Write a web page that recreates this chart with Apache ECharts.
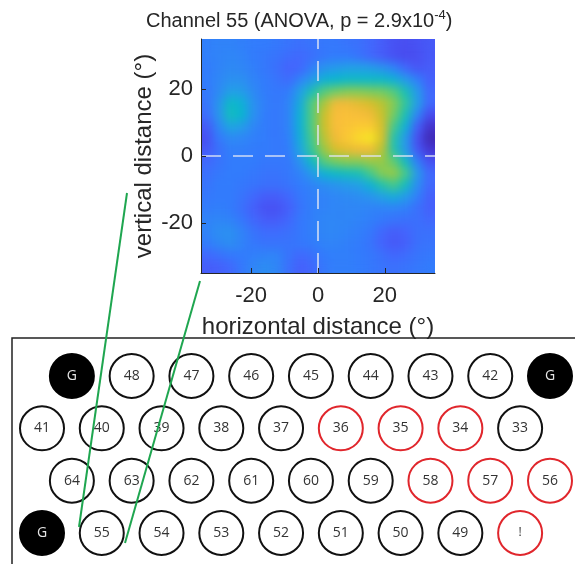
<!DOCTYPE html>
<html><head><meta charset="utf-8">
<script src="https://cdn.jsdelivr.net/npm/echarts@6/dist/echarts.min.js"></script>
<style>
html,body{margin:0;padding:0;background:#fff}
#wrap{position:relative;width:575px;height:564px}
#hm{position:absolute;left:201px;top:39px;width:234px;height:234px;filter:url(#smooth)}
#c{position:absolute;left:0;top:0;width:575px;height:564px}
</style>
</head><body>
<svg width="0" height="0" style="position:absolute">
  <filter id="smooth" x="0" y="0" width="100%" height="100%" color-interpolation-filters="sRGB">
    <feGaussianBlur stdDeviation="5"/>
    <feComponentTransfer><feFuncA type="table" tableValues="1 1"/></feComponentTransfer>
  </filter>
</svg>
<div id="wrap"><div id="hm"></div><div id="c"></div></div>
<script>
// ---- heatmap data (parula-normalised response, 0..1) ----
const cellCenters = [-33.25,-29.75,-26.25,-22.75,-19.25,-15.75,-12.25,-8.75,-5.25,-1.75,1.75,5.25,8.75,12.25,15.75,19.25,22.75,26.25,29.75,33.25];
// rows listed top (y=33.25) to bottom (y=-33.25); columns left (x=-33.25) to right
const heatRows = [
 [.26,.27,.27,.26,.25,.25,.24,.23,.22,.23,.24,.24,.23,.22,.20,.17,.14,.13,.14,.16],
 [.26,.27,.28,.27,.25,.24,.23,.21,.20,.22,.24,.25,.25,.23,.20,.17,.14,.12,.13,.16],
 [.25,.27,.29,.28,.26,.24,.22,.19,.20,.26,.32,.34,.36,.36,.35,.32,.27,.20,.15,.17],
 [.25,.28,.31,.31,.27,.25,.23,.21,.27,.34,.42,.44,.46,.46,.46,.46,.42,.34,.26,.18],
 [.24,.29,.36,.35,.29,.25,.24,.25,.36,.50,.60,.64,.66,.66,.65,.64,.60,.50,.34,.20],
 [.23,.32,.46,.42,.31,.26,.24,.27,.40,.60,.70,.80,.80,.78,.76,.72,.66,.55,.36,.20],
 [.21,.32,.48,.44,.31,.25,.24,.27,.42,.60,.74,.82,.83,.82,.80,.74,.64,.50,.28,.12],
 [.16,.28,.38,.35,.28,.25,.24,.27,.42,.60,.74,.82,.84,.86,.86,.76,.58,.42,.18,.05],
 [.13,.24,.29,.28,.26,.25,.24,.26,.41,.58,.72,.80,.85,.90,.93,.76,.52,.34,.13,.02],
 [.16,.22,.26,.26,.25,.25,.24,.25,.38,.56,.68,.76,.78,.80,.80,.72,.52,.34,.16,.06],
 [.20,.23,.25,.25,.25,.24,.24,.24,.32,.46,.60,.64,.66,.66,.68,.68,.62,.48,.26,.14],
 [.22,.24,.25,.25,.24,.23,.23,.24,.27,.34,.42,.46,.48,.50,.58,.66,.68,.58,.34,.20],
 [.23,.25,.25,.24,.23,.22,.22,.23,.25,.27,.30,.32,.34,.36,.42,.52,.58,.48,.30,.20],
 [.24,.25,.25,.23,.20,.17,.17,.20,.24,.26,.27,.28,.29,.30,.32,.36,.40,.34,.26,.18],
 [.25,.26,.25,.22,.18,.14,.14,.18,.23,.26,.27,.28,.28,.28,.27,.27,.27,.26,.22,.18],
 [.27,.28,.27,.24,.20,.17,.17,.20,.24,.26,.28,.28,.28,.27,.26,.24,.23,.22,.22,.20],
 [.27,.30,.31,.27,.23,.21,.21,.22,.24,.26,.28,.28,.27,.26,.24,.20,.17,.19,.22,.22],
 [.25,.28,.30,.27,.24,.23,.23,.23,.24,.25,.27,.27,.26,.25,.23,.19,.16,.18,.22,.23],
 [.20,.22,.24,.25,.26,.27,.27,.23,.20,.22,.25,.26,.26,.25,.24,.22,.20,.21,.23,.24],
 [.17,.18,.20,.24,.28,.30,.28,.22,.18,.20,.24,.26,.26,.25,.24,.23,.22,.23,.24,.25]
];
const axisTicks = [-20, 0, 20];
const axisMin = -35, axisMax = 35;

// ---- electrode grid ----
const electrodeRows = [
 ['G','48','47','46','45','44','43','42','G'],
 ['41','40','39','38','37','36','35','34','33'],
 ['64','63','62','61','60','59','58','57','56'],
 ['G','55','54','53','52','51','50','49','!']
];
const rowStartCol = [1, 0, 1, 0];
const responsive = ['36','35','34','58','57','56','!'];

const parula = ['#3e26a8','#4537d5','#484df0','#4563fd','#327cfc','#2b91ef','#20a5e3','#08b5d0',
 '#19bfb6','#37c897','#64cd6f','#9dc943','#d1bf27','#f8ba3d','#fccf30','#f5e924','#f9fb15'];

const heatData = [];
heatRows.forEach((row, r) => row.forEach((v, c) => heatData.push([c, r, v])));

const elecData = [];
electrodeRows.forEach((row, r) => row.forEach((lab, i) => {
  const isG = lab === 'G';
  const red = responsive.indexOf(lab) >= 0;
  elecData.push({
    value: [rowStartCol[r] + 2 * i, r], name: lab,
    itemStyle: { color: isG ? '#000' : '#fff', borderColor: isG ? '#000' : (red ? '#e0262c' : '#111'),
                 borderWidth: 2, opacity: 1 },
    label: { color: isG ? '#e6e6e6' : '#333', fontSize: lab === '!' ? 12 : 14 }
  });
}));

const FONT = 'Liberation Sans, Arial, sans-serif';
const TXT = '#262626';

// heatmap layer
const hm = echarts.init(document.getElementById('hm'), null, { renderer: 'canvas' });
hm.setOption({
  animation: false,
  visualMap: { type: 'continuous', min: 0, max: 1, show: false, inRange: { color: parula } },
  grid: { left: 0, top: 0, right: 0, bottom: 0 },
  xAxis: { type: 'category', data: cellCenters, show: false },
  yAxis: { type: 'category', data: cellCenters, inverse: true, show: false },
  series: [{ type: 'heatmap', data: heatData, progressive: 0 }]
});

// main layer: axes, texts, electrodes
const chart = echarts.init(document.getElementById('c'), null, { renderer: 'canvas' });
chart.setOption({
  animation: false,
  title: {
    text: '{a|Channel 55 (ANOVA, p = 2.9x10}{s|-4}{a|)}',
    left: 141, top: 4,
    textStyle: { fontFamily: FONT, fontWeight: 'normal', color: TXT, fontSize: 20,
      rich: { a: { fontFamily: FONT, fontSize: 20, color: TXT },
              s: { fontFamily: FONT, fontSize: 13, color: TXT, padding: [0, 0, 12, 0] } } }
  },
  grid: [
    { left: 201, top: 39, width: 234, height: 234 },
    { left: 42, top: 376, width: 508, height: 157 }
  ],
  xAxis: [
    { type: 'value', gridIndex: 0, min: axisMin, max: axisMax, z: 5,
      name: 'horizontal distance (°)', nameLocation: 'middle', nameGap: 42,
      nameTextStyle: { fontFamily: FONT, fontSize: 24, color: TXT },
      axisLine: { show: true, onZero: false, lineStyle: { color: TXT, width: 1 } },
      axisTick: { show: true, inside: true, length: 5, customValues: axisTicks, lineStyle: { color: TXT } },
      axisLabel: { customValues: axisTicks, margin: 12, fontFamily: FONT, fontSize: 22, color: TXT },
      splitLine: { show: false } },
    { type: 'value', gridIndex: 1, min: 0, max: 17, show: false }
  ],
  yAxis: [
    { type: 'value', gridIndex: 0, min: axisMin, max: axisMax, z: 5,
      name: 'vertical distance (°)', nameLocation: 'middle', nameGap: 45,
      nameTextStyle: { fontFamily: FONT, fontSize: 24, color: TXT },
      axisLine: { show: true, onZero: false, lineStyle: { color: TXT, width: 1 } },
      axisTick: { show: true, inside: true, length: 5, customValues: axisTicks, lineStyle: { color: TXT } },
      axisLabel: { customValues: axisTicks, margin: 8, fontFamily: FONT, fontSize: 22, color: TXT },
      splitLine: { show: false } },
    { type: 'value', gridIndex: 1, min: 0, max: 3, inverse: true, show: false }
  ],
  series: [
    { type: 'line', xAxisIndex: 0, yAxisIndex: 0, data: [], z: 4,
      markLine: { silent: true, symbol: 'none', label: { show: false },
        lineStyle: { color: 'rgba(225,230,245,0.9)', type: [20, 12], width: 1.6 },
        data: [{ xAxis: 0 }, { yAxis: 0 }] } },
    { type: 'scatter', xAxisIndex: 1, yAxisIndex: 1, data: elecData, symbol: 'circle', symbolSize: 44,
      clip: false, z: 3,
      label: { show: true, position: 'inside', formatter: p => p.name, fontFamily: 'Open Sans, Noto Sans, sans-serif' } }
  ],
  graphic: [
    { type: 'polyline', z: 50, shape: { points: [[12, 566], [12, 338], [580, 338]] },
      style: { stroke: '#222', lineWidth: 1.5, fill: null } },
    { type: 'line', z: 60, shape: { x1: 127, y1: 193, x2: 79, y2: 527 }, style: { stroke: '#1fa650', lineWidth: 2 } },
    { type: 'line', z: 60, shape: { x1: 200, y1: 281, x2: 125, y2: 543 }, style: { stroke: '#1fa650', lineWidth: 2 } }
  ]
});
</script></body></html>
